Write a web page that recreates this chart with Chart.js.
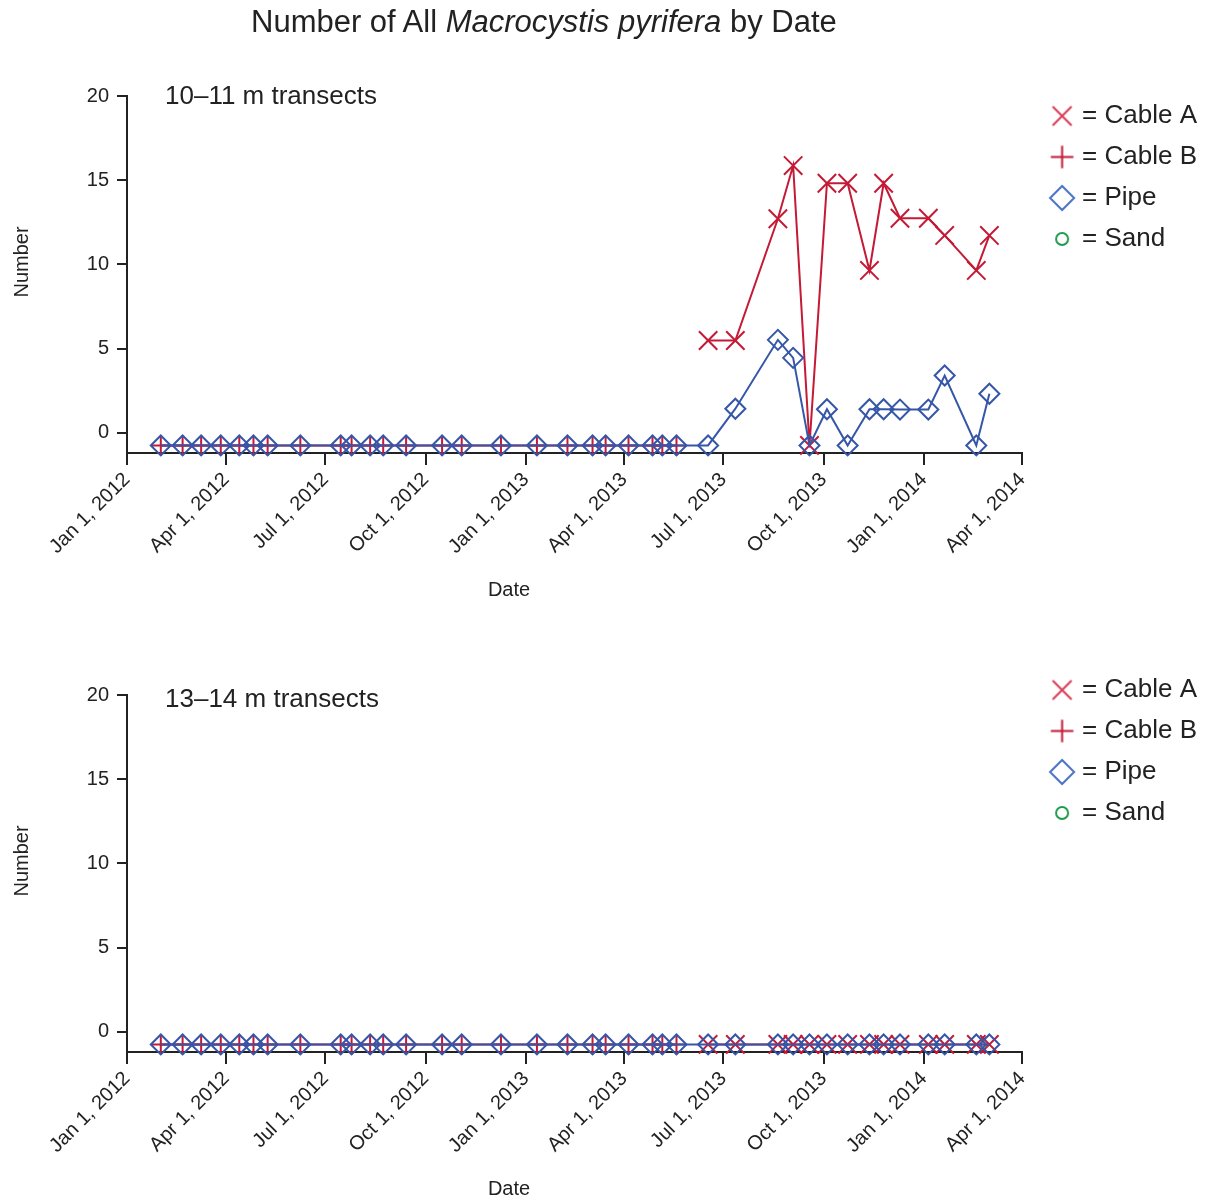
<!DOCTYPE html>
<html>
<head>
<meta charset="utf-8">
<title>Macrocystis pyrifera by Date</title>
<script src="https://cdn.jsdelivr.net/npm/chart.js"></script>
<style>
  body { margin: 0; width: 1209px; height: 1201px; position: relative; background: #fff;
         font-family: 'Liberation Sans', Arial, sans-serif; overflow: hidden; }
  #title { position: absolute; left: 251px; top: 5px; font-size: 31px; line-height: 34px;
           color: #222; white-space: nowrap; z-index: 2; }
  .panel { position: absolute; left: 0; width: 1209px; height: 600px; }
</style>
</head>
<body>
<div id="title">Number of All <i>Macrocystis pyrifera</i> by Date</div>
<div class="panel" style="top:0"><canvas id="chartTop" width="1209" height="600"></canvas></div>
<div class="panel" style="top:599px"><canvas id="chartBottom" width="1209" height="600"></canvas></div>
<script>
    // zero counts sit just under the 0 line in the original figure
    const Z = -0.75;

    const sampleDates = [
        '2012-02-01', '2012-02-21', '2012-03-09', '2012-03-27', '2012-04-13', '2012-04-26',
        '2012-05-09', '2012-06-08', '2012-07-15', '2012-07-25', '2012-08-11', '2012-08-23',
        '2012-09-13', '2012-10-16', '2012-11-03', '2012-12-09', '2013-01-11', '2013-02-08',
        '2013-03-03', '2013-03-15', '2013-04-05', '2013-04-27', '2013-05-06', '2013-05-19',
        '2013-06-17', '2013-07-12', '2013-08-20', '2013-09-03', '2013-09-18', '2013-10-04',
        '2013-10-23', '2013-11-12', '2013-11-25', '2013-12-10', '2014-01-05', '2014-01-20',
        '2014-02-18', '2014-03-02'
    ];

    const tickDates = ['2012-01-01', '2012-04-01', '2012-07-01', '2012-10-01', '2013-01-01',
                       '2013-04-01', '2013-07-01', '2013-10-01', '2014-01-01', '2014-04-01'];
    const tickLabels = ['Jan 1, 2012', 'Apr 1, 2012', 'Jul 1, 2012', 'Oct 1, 2012', 'Jan 1, 2013',
                        'Apr 1, 2013', 'Jul 1, 2013', 'Oct 1, 2013', 'Jan 1, 2014', 'Apr 1, 2014'];
    const yTicks = [0, 5, 10, 15, 20];

    // 10-11 m transects
    const cableA10 = [null, null, null, null, null, null, null, null, null, null, null, null,
                      null, null, null, null, null, null, null, null, null, null, null, null,
                      5.48, 5.48, 12.71, 15.87, Z, 14.82, 14.82, 9.64, 14.82, 12.74, 12.74, 11.72, 9.64, 11.72];
    const cableB10 = [Z, Z, Z, Z, Z, Z, Z, Z, Z, Z, Z, Z, Z, Z, Z, Z, Z, Z, Z, Z, Z, Z, Z, Z,
                      null, null, null, null, null, null, null, null, null, null, null, null, null, null];
    const pipe10 = [Z, Z, Z, Z, Z, Z, Z, Z, Z, Z, Z, Z, Z, Z, Z, Z, Z, Z, Z, Z, Z, Z, Z, Z,
                    Z, 1.43, 5.52, 4.45, Z, 1.40, Z, 1.40, 1.40, 1.38, 1.38, 3.40, Z, 2.32];
    const sand10 = [];

    // 13-14 m transects
    const cableA13 = [null, null, null, null, null, null, null, null, null, null, null, null,
                      null, null, null, null, null, null, null, null, null, null, null, null,
                      Z, Z, Z, Z, Z, Z, Z, Z, Z, Z, Z, Z, Z, Z];
    const cableB13 = [Z, Z, Z, Z, Z, Z, Z, Z, Z, Z, Z, Z, Z, Z, Z, Z, Z, Z, Z, Z, Z, Z, Z, Z,
                      null, null, null, null, null, null, null, null, null, null, null, null, null, null];
    const pipe13 = [Z, Z, Z, Z, Z, Z, Z, Z, Z, Z, Z, Z, Z, Z, Z, Z, Z, Z, Z, Z, Z, Z, Z, Z,
                    Z, Z, Z, Z, Z, Z, Z, Z, Z, Z, Z, Z, Z, Z];
    const sand13 = [];

    const ink = '#222222';
    const red = '#c41a36';
    const redLight = '#d93a55';
    const blue = '#3656a8';
    const blueLight = '#4a72c4';
    const green = '#1f9a4c';
    const font = "'Liberation Sans', Arial, sans-serif";
    Chart.defaults.font.family = font;
    Chart.defaults.color = ink;

    function dayOf(s) {
        const [y, m, d] = s.split('-').map(Number);
        return (Date.UTC(y, m - 1, d) - Date.UTC(2012, 0, 1)) / 864e5;
    }

    function toPoints(vals) {
        return vals.map((v, i) => ({ x: dayOf(sampleDates[i]), y: v })).filter(p => p.y !== null);
    }

    // legend glyph drawn off-centre so it lines up with the original legend
    function glyph(style, r, color, off) {
        const c = document.createElement('canvas');
        c.width = Math.ceil(2 * (Math.abs(off) + r + 3));
        c.height = Math.ceil(2 * (r + 3));
        const g = c.getContext('2d');
        g.strokeStyle = color;
        g.fillStyle = 'rgba(0,0,0,0)';
        g.lineWidth = 2;
        Chart.helpers.drawPoint(g, { pointStyle: style, radius: r, borderWidth: 2, rotation: 0 },
                                c.width / 2 + off, c.height / 2);
        return c;
    }
    const legendMarks = [
        glyph('crossRot', 13.4, redLight, 9),
        glyph('cross', 11.3, red, 9),
        glyph('rectRot', 12, blueLight, 9),
        glyph('circle', 6, green, 9)
    ];

    function series(label, vals, style, radius, color, order) {
        return {
            label: label,
            data: toPoints(vals),
            pointStyle: style,
            pointRadius: radius,
            pointHoverRadius: radius,
            borderColor: color,
            pointBorderColor: color,
            backgroundColor: 'rgba(0,0,0,0)',
            pointBackgroundColor: 'rgba(0,0,0,0)',
            borderWidth: 2,
            pointBorderWidth: 2,
            order: order,
            clip: false
        };
    }

    const panelText = {
        id: 'panelText',
        afterDraw(chart, args, opts) {
            const { ctx, chartArea } = chart;
            ctx.save();
            ctx.fillStyle = ink;
            ctx.textBaseline = 'middle';
            ctx.textAlign = 'left';
            ctx.font = '26px ' + font;
            ctx.fillText(opts.label, chartArea.left + 38, chartArea.top + opts.labelDy);
            ctx.font = '20px ' + font;
            ctx.textAlign = 'center';
            ctx.fillText('Date', chartArea.left + 382, chartArea.bottom + 137);
            ctx.translate(22, chartArea.top + 166);
            ctx.rotate(-Math.PI / 2);
            ctx.fillText('Number', 0, 0);
            ctx.restore();
        }
    };

    function makePanel(id, label, labelDy, legendTop, sets) {
        new Chart(document.getElementById(id), {
            type: 'line',
            data: { datasets: sets },
            plugins: [panelText],
            options: {
                responsive: false,
                animation: false,
                events: [],
                layout: { padding: { top: legendTop, left: 0, right: 2, bottom: 0 } },
                scales: {
                    x: {
                        type: 'linear',
                        min: dayOf(tickDates[0]),
                        max: dayOf(tickDates[tickDates.length - 1]),
                        afterBuildTicks: s => { s.ticks = tickDates.map(d => ({ value: dayOf(d) })); },
                        afterFit: s => { s.height = 147; },
                        grid: { drawOnChartArea: false, color: ink, lineWidth: 2, tickLength: 12 },
                        border: { color: ink, width: 2 },
                        ticks: {
                            autoSkip: false, minRotation: 45, maxRotation: 45, padding: 3,
                            color: ink, font: { size: 20 },
                            callback: (v, i) => tickLabels[i]
                        }
                    },
                    y: {
                        min: -1.2,
                        max: 20,
                        afterBuildTicks: s => { s.ticks = yTicks.map(v => ({ value: v })); },
                        afterFit: s => { s.width = 127; },
                        grid: { drawOnChartArea: false, color: ink, lineWidth: 2, tickLength: 10 },
                        border: { color: ink, width: 2 },
                        ticks: { padding: 8, color: ink, font: { size: 20 } }
                    }
                },
                plugins: {
                    // empty title only used as a spacer above the plot
                    title: { display: true, text: '', padding: 0, font: { size: 96 - legendTop, lineHeight: 1 } },
                    legend: {
                        position: 'right',
                        align: 'start',
                        labels: {
                            usePointStyle: true,
                            pointStyleWidth: 32,
                            padding: 15,
                            color: ink,
                            font: { size: 26 },
                            generateLabels: chart => chart.data.datasets.map((ds, i) => ({
                                text: '= ' + ds.label,
                                pointStyle: legendMarks[i],
                                datasetIndex: i,
                                fontColor: ink,
                                lineWidth: 0,
                                hidden: false
                            }))
                        }
                    },
                    tooltip: { enabled: false },
                    panelText: { label: label, labelDy: labelDy }
                }
            }
        });
    }

    makePanel('chartTop', '10\u201311 m transects', 1, 88, [
        series('Cable A', cableA10, 'crossRot', 13, red, 2),
        series('Cable B', cableB10, 'cross', 10, red, 1),
        series('Pipe', pipe10, 'rectRot', 10, blue, 0),
        series('Sand', sand10, 'circle', 6, green, 3)
    ]);

    makePanel('chartBottom', '13\u201314 m transects', 5, 63, [
        series('Cable A', cableA13, 'crossRot', 13, red, 2),
        series('Cable B', cableB13, 'cross', 10, red, 1),
        series('Pipe', pipe13, 'rectRot', 10, blue, 0),
        series('Sand', sand13, 'circle', 6, green, 3)
    ]);
</script>
</body>
</html>
